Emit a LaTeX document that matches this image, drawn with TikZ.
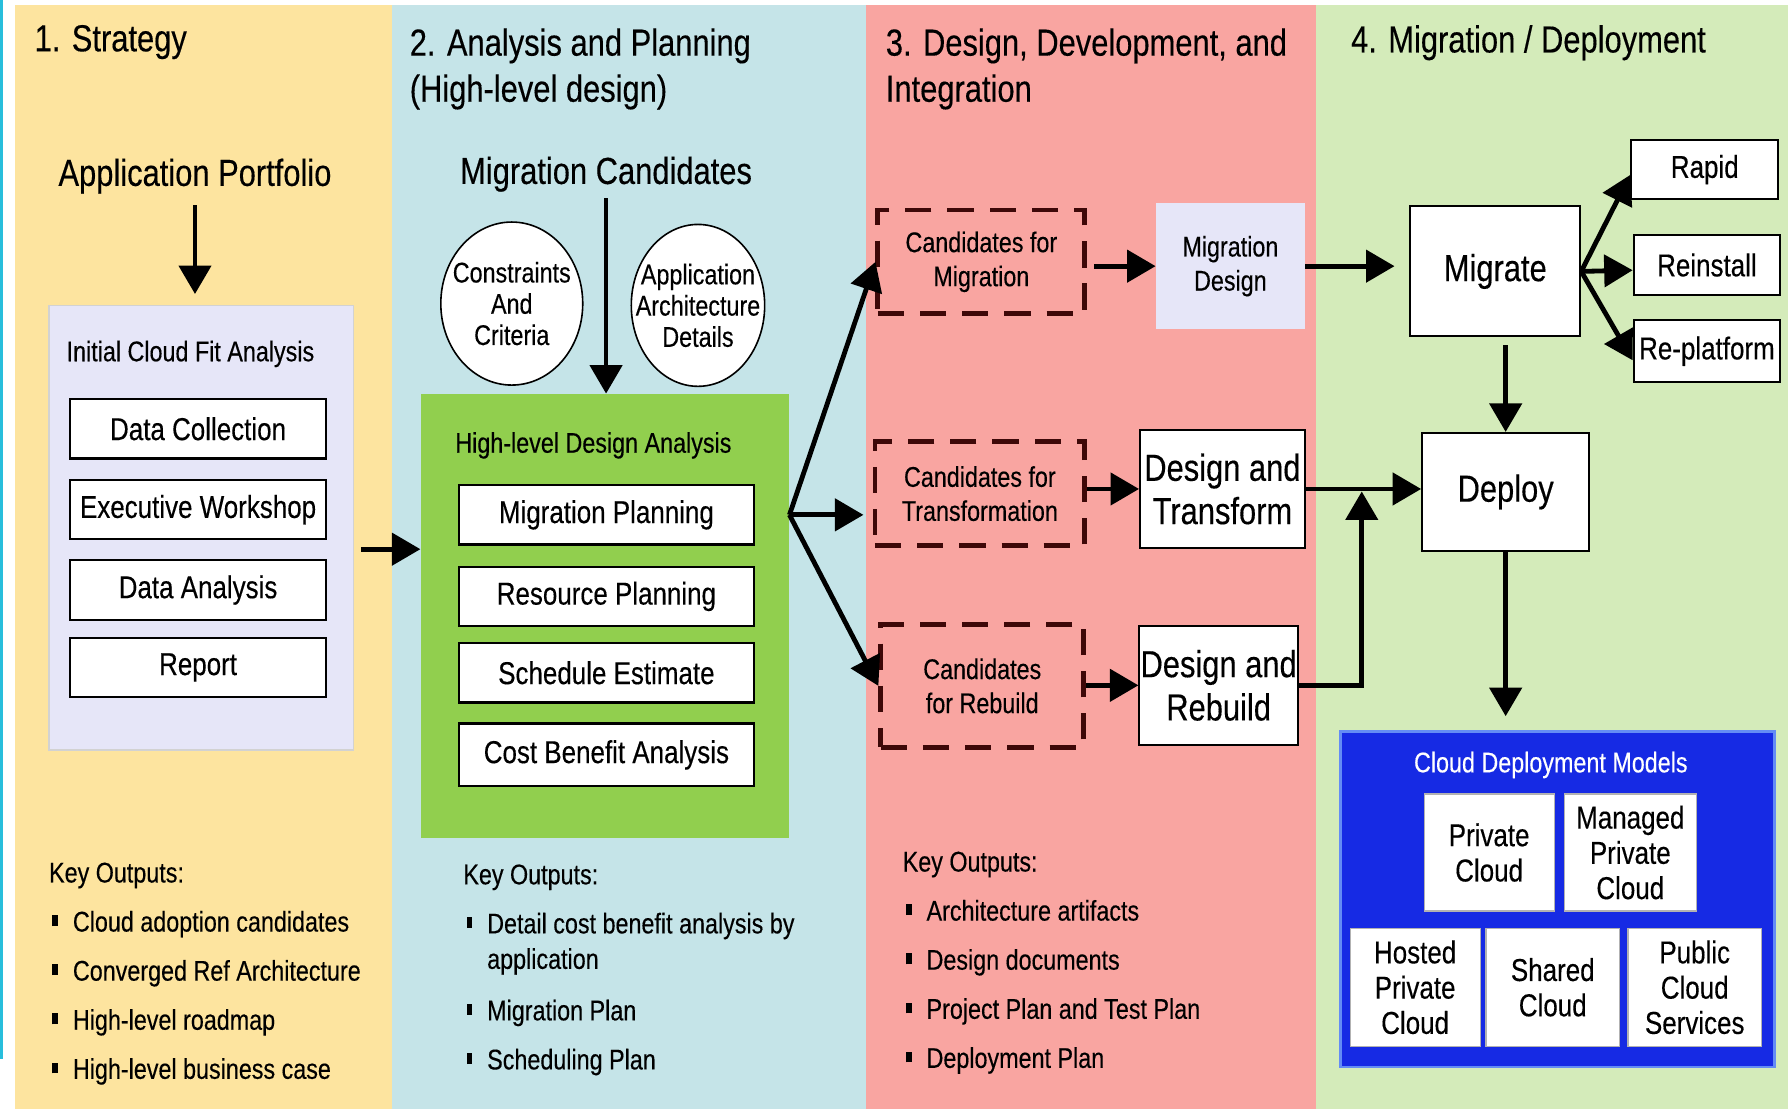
\documentclass[tikz,border=0pt]{standalone}
\usepackage{fontspec}
\setmainfont{Liberation Sans}[FakeStretch=0.82,FakeBold=0.3]
\usetikzlibrary{arrows.meta,shapes.geometric}

\definecolor{stratbg}{RGB}{253,228,159}
\definecolor{planbg}{RGB}{197,228,232}
\definecolor{designbg}{RGB}{249,165,161}
\definecolor{deploybg}{RGB}{212,235,186}
\definecolor{lav}{RGB}{230,230,248}
\definecolor{hlgreen}{RGB}{145,207,78}
\definecolor{cdmblue}{RGB}{22,42,228}
\definecolor{cdmedge}{RGB}{100,140,245}
\definecolor{candred}{RGB}{62,8,8}
\definecolor{edgecyan}{RGB}{40,190,220}

\newcommand{\bul}{\hspace*{1.6pt}\raisebox{2.7pt}{\rule{2.8pt}{5.4pt}}\hspace{7.5pt}}

\begin{document}
\begin{tikzpicture}[x=0.02cm,y=-0.02cm,
    >={Triangle[length=0.5cm,width=0.56cm]},
    every node/.style={inner sep=0pt,align=center},
    bigtext/.style={font=\fontsize{18.8pt}{21.6pt}\selectfont},
    titletext/.style={font=\fontsize{18.8pt}{23pt}\selectfont},
    midtext/.style={font=\fontsize{15.8pt}{17.6pt}\selectfont},
    smalltext/.style={font=\fontsize{14.2pt}{17pt}\selectfont},
    box/.style={rectangle,draw,line width=1pt,fill=white},
    task/.style={box,midtext,line width=1.1pt,minimum height=1.04cm},
    cand/.style={rectangle,draw=candred,line width=2.4pt,dash pattern=on 0.46cm off 0.28cm,smalltext},
    circ/.style={ellipse,draw,line width=0.8pt,fill=white,inner xsep=-0.3cm,font=\fontsize{14.2pt}{15.6pt}\selectfont},
    model/.style={rectangle,draw=gray!60,line width=0.6pt,fill=white,midtext},
    outs/.style={anchor=north west,align=left,font=\fontsize{14.2pt}{24.5pt}\selectfont},
    flow/.style={->,line width=2.4pt}]

    \fill[white] (0,0) rectangle (1568,972.5);
    \fill[edgecyan] (0,0) rectangle (2.9,928.7);
    \fill[stratbg] (13.2,4.4) rectangle (344,972.5);
    \fill[planbg] (344,4.4) rectangle (759.1,972.5);
    \fill[designbg] (759.1,4.4) rectangle (1153.8,972.5);
    \fill[deploybg] (1153.8,4.4) rectangle (1568,972.5);
    \useasboundingbox (0,0) rectangle (1568,972.5);

    \node[titletext,anchor=base west] (T1) at (30,45) {1. Strategy};
    \node[titletext,anchor=north west,align=left] (T2) at (359,24.5) {2. Analysis and Planning\\(High-level design)};
    \node[titletext,anchor=north west,align=left] (T3) at (776.5,24.5) {3. Design, Development, and\\Integration};
    \node[titletext,anchor=base west] (T4) at (1184.5,46) {4. Migration / Deployment};

    \node[bigtext,anchor=base] (AP) at (171,163) {Application Portfolio};
    \node[rectangle,draw=gray!35,line width=0.8pt,fill=lav,minimum width=5.34cm,minimum height=7.79cm] (CF) at (176.5,462.75) {};
    \node[smalltext,anchor=base] (CFL) at (167,316.8) {Initial Cloud Fit Analysis};
    \node[task,minimum width=4.49cm] (DC) at (173.7,376) {Data Collection};
    \node[task,minimum width=4.49cm] (EW) at (173.7,447) {Executive Workshop};
    \node[task,minimum width=4.49cm] (DA) at (173.7,517.4) {Data Analysis};
    \node[task,minimum width=4.49cm] (RE) at (173.7,585.3) {Report};
    \node[outs] (K1) at (42.7,756.1) {Key Outputs:\\\bul Cloud adoption candidates\\\bul Converged Ref Architecture\\\bul High-level roadmap\\\bul High-level business case};

    \node[bigtext,anchor=base] (MC) at (531.5,161.3) {Migration Candidates};
    \node[circ,minimum width=2.49cm,minimum height=2.86cm] (CC) at (448.8,266.2) {Constraints\\And\\Criteria};
    \node[circ,minimum width=2.34cm,minimum height=2.84cm] (AD) at (612.1,267.8) {Application\\Architecture\\Details};
    \node[rectangle,fill=hlgreen,minimum width=6.46cm,minimum height=7.78cm] (HL) at (530.5,540) {};
    \node[smalltext,anchor=base] (HLL) at (520.4,397) {High-level Design Analysis};
    \node[task,minimum width=5.17cm] (MP) at (531.8,451.5) {Migration Planning};
    \node[task,minimum width=5.17cm] (RS) at (531.8,523) {Resource Planning};
    \node[task,minimum width=5.17cm] (SE) at (531.8,590) {Schedule Estimate};
    \node[task,minimum width=5.17cm,minimum height=1.1cm] (CB) at (531.8,662) {Cost Benefit Analysis};
    \node[outs] (K2) at (406,757.7) {Key Outputs:\\\bul Detail cost benefit analysis by\\[-6.8pt]\hspace*{11.9pt}application\\[1.2pt]\bul Migration Plan\\\bul Scheduling Plan};

    \node[cand,minimum width=3.63cm,minimum height=1.82cm] (CM) at (860.6,229.6) {Candidates for\\Migration};
    \node[cand,minimum width=3.68cm,minimum height=1.82cm] (CT) at (859.3,432.9) {Candidates for\\Transformation};
    \node[cand,minimum width=3.56cm,minimum height=2.16cm] (CR) at (861.4,601.5) {Candidates\\for Rebuild};
    \node[rectangle,fill=lav,smalltext,minimum width=2.61cm,minimum height=2.22cm] (MD) at (1079,233.4) {Migration\\Design};
    \node[box,bigtext,minimum width=2.89cm,minimum height=2.08cm] (DT) at (1072,428.8) {Design and\\Transform};
    \node[box,bigtext,minimum width=2.78cm,minimum height=2.09cm] (DR) at (1068.7,601) {Design and\\Rebuild};
    \node[outs] (K3) at (791.3,746.5) {Key Outputs:\\\bul Architecture artifacts\\\bul Design documents\\\bul Project Plan and Test Plan\\\bul Deployment Plan};

    \node[box,bigtext,minimum width=2.98cm,minimum height=2.28cm] (MG) at (1311.3,238) {Migrate};
    \node[box,midtext,minimum width=2.58cm,minimum height=1.03cm] (R1) at (1495,148.8) {Rapid};
    \node[box,midtext,minimum width=2.57cm,minimum height=1.06cm] (R2) at (1496.9,232.4) {Reinstall};
    \node[box,midtext,minimum width=2.57cm,minimum height=1.08cm] (R3) at (1496.9,308) {Re-platform};
    \node[box,bigtext,minimum width=2.93cm,minimum height=2.07cm] (DP) at (1320.4,431.4) {Deploy};
    \node[rectangle,draw=cdmedge,line width=1.4pt,fill=cdmblue,minimum width=7.61cm,minimum height=5.89cm] (CDM) at (1365.8,788.5) {};
    \node[smalltext,text=white,anchor=base] (CDML) at (1360,677.3) {Cloud Deployment Models};
    \node[model,minimum width=2.28cm,minimum height=2.05cm] (PC) at (1305.9,747.6) {Private\\Cloud};
    \node[model,minimum width=2.31cm,minimum height=2.05cm] (MPC) at (1429.7,747.6) {Managed\\Private\\Cloud};
    \node[model,minimum width=2.28cm,minimum height=2.07cm] (HPC) at (1241,865.8) {Hosted\\Private\\Cloud};
    \node[model,minimum width=2.34cm,minimum height=2.07cm] (SC) at (1361.7,865.8) {Shared\\Cloud};
    \node[model,minimum width=2.34cm,minimum height=2.07cm] (PCS) at (1486.2,865.8) {Public\\Cloud\\Services};

    \coordinate (J) at (1194.2,431);

    \draw[flow,shorten <=0.2cm,shorten >=0.19cm] (AP.south) -- (AP.south |- CF.north);
    \draw[flow,shorten <=0.11cm] (MC.south) -- (MC.south |- HL.north);
    \draw[flow,shorten <=0.12cm] (CF.352) -- (CF.352 -| HL.west);
    \draw[flow] (HL.east |- MP) -- (CM.west);
    \draw[flow,shorten >=0.16cm] (HL.east |- MP) -- (CT.west |- MP);
    \draw[flow] (HL.east |- MP) -- (CR.west);
    \draw[flow,shorten <=0.12cm] (CM.east |- MD.west) -- (MD.west);
    \draw[flow,shorten >=0.26cm] (MD.east) -- (MD.east -| MG.west);
    \draw[flow] (CT.east |- DT.west) -- (DT.west);
    \draw[flow] (CR.east |- DR.west) -- (DR.west);
    \draw[flow] (DT.east) -- (DT.east -| DP.west);
    \draw[flow] (DR.east) -| (J);
    \draw[flow,shorten <=0.14cm] (DP.north |- MG.south) -- (DP.north);
    \draw[flow,shorten >=0.24cm] (DP.south) -- (DP.south |- CDM.north);
    \draw[flow] (MG.east) -- (R1.184);
    \draw[flow] (MG.east) -- (R2.184);
    \draw[flow] (MG.east) -- (R3.187);
\end{tikzpicture}
\end{document}
